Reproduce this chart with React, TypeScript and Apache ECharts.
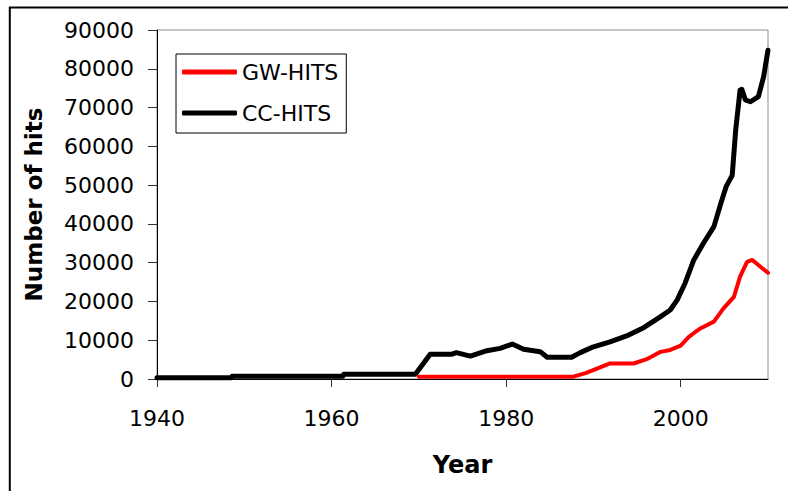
import React, { useEffect, useRef } from "react";
import * as echarts from "echarts";

// ---- data ----
const xTicks = [1940, 1960, 1980, 2000];
const yTicks = [0, 10000, 20000, 30000, 40000, 50000, 60000, 70000, 80000, 90000];

const seriesNames = ["GW-HITS", "CC-HITS"];

const gwYears = [1970, 1987.7, 1989.1, 1990.4, 1991.9, 1994.6, 1996.1, 1997.7, 1998.8, 2000, 2000.9, 2001.6, 2002.3, 2003.8, 2004.9, 2006.1, 2006.8, 2007.6, 2008.2, 2009.1, 2010];
const gwValues = [600, 600, 1500, 2700, 4000, 4000, 5100, 7000, 7500, 8600, 10800, 12000, 13100, 14800, 18200, 21200, 26400, 30200, 30700, 29000, 27400];

const ccYears = [1940, 1948.5, 1948.6, 1961.3, 1961.4, 1969.6, 1971.3, 1973.8, 1974.3, 1975.9, 1977.8, 1979.3, 1980.7, 1982, 1983.9, 1984.7, 1987.5, 1988.5, 1990, 1991.9, 1993.8, 1995.8, 1997.7, 1998.8, 1999.6, 2000.5, 2001.5, 2002.6, 2003.8, 2004.6, 2005.2, 2005.9, 2006.3, 2006.8, 2007.0, 2007.4, 2008.0, 2008.9, 2009.5, 2010];
const ccValues = [300, 300, 700, 700, 1200, 1200, 6400, 6400, 6800, 5900, 7300, 7900, 9000, 7650, 7050, 5600, 5600, 6800, 8300, 9600, 11100, 13300, 16100, 17800, 20400, 24700, 30700, 35000, 39300, 45300, 49600, 52500, 64200, 74500, 74700, 72000, 71500, 72800, 78000, 84800];

const FONT = "DejaVu Sans";

export default function App() {
  const ref = useRef<HTMLDivElement>(null);

  useEffect(() => {
    const chart = echarts.init(ref.current as HTMLDivElement, null, { renderer: "svg" });
    const gwData = gwYears.map((y, i) => [y, gwValues[i]]);
    const ccData = ccYears.map((y, i) => [y, ccValues[i]]);

    chart.setOption({
      animation: false,
      backgroundColor: "#ffffff",
      textStyle: { fontFamily: FONT, color: "#000" },
      grid: {
        left: 157,
        top: 30,
        width: 611,
        height: 349,
        show: true,
        borderColor: "#8c8c8c",
        borderWidth: 1,
        backgroundColor: "#ffffff",
      },
      legend: {
        show: true,
        orient: "vertical",
        left: 176,
        top: 54,
        padding: [7, 8, 9, 6],
        itemGap: 19,
        itemWidth: 55,
        itemHeight: 5,
        icon: "roundRect",
        borderColor: "#000",
        borderWidth: 1,
        borderRadius: 0,
        backgroundColor: "#ffffff",
        textStyle: { fontFamily: FONT, fontSize: 22, color: "#000" },
        data: seriesNames,
      },
      xAxis: {
        type: "value",
        min: 1940,
        max: 2010,
        splitLine: { show: false },
        axisLine: { show: true, onZero: false, lineStyle: { color: "#000", width: 1 } },
        axisTick: { show: true, length: 8, customValues: xTicks, lineStyle: { color: "#333" } },
        axisLabel: {
          customValues: xTicks,
          margin: 28,
          fontSize: 22,
          color: "#000",
          fontFamily: FONT,
          formatter: (v: number) => String(v),
        },
        name: "Year",
        nameLocation: "middle",
        nameGap: 74,
        nameTextStyle: { fontSize: 24, fontWeight: "bold", color: "#000", fontFamily: FONT },
      },
      yAxis: {
        type: "value",
        min: 0,
        max: 90000,
        interval: 10000,
        splitLine: { show: false },
        axisLine: { show: true, lineStyle: { color: "#000", width: 1 } },
        axisTick: { show: true, length: 9, customValues: yTicks, lineStyle: { color: "#333" } },
        axisLabel: {
          customValues: yTicks,
          margin: 23,
          fontSize: 22,
          color: "#000",
          fontFamily: FONT,
          formatter: (v: number) => String(v),
        },
        name: "Number of hits",
        nameLocation: "middle",
        nameGap: 112,
        nameRotate: 90,
        nameTextStyle: { fontSize: 23, fontWeight: "bold", color: "#000", fontFamily: FONT },
      },
      graphic: [
        { type: "line", shape: { x1: 9, y1: 7.5, x2: 788, y2: 7.5 }, style: { stroke: "#000", lineWidth: 2 }, z: 100 },
        { type: "line", shape: { x1: 9.8, y1: 7, x2: 9.8, y2: 491 }, style: { stroke: "#000", lineWidth: 2 }, z: 100 },
      ],
      series: [
        {
          name: seriesNames[0],
          type: "line",
          data: gwData,
          symbol: "none",
          showSymbol: false,
          itemStyle: { color: "#ff0000" },
          lineStyle: { color: "#ff0000", width: 4, cap: "round", join: "round" },
        },
        {
          name: seriesNames[1],
          type: "line",
          data: ccData,
          symbol: "none",
          showSymbol: false,
          itemStyle: { color: "#000000" },
          lineStyle: { color: "#000000", width: 5, cap: "round", join: "round" },
        },
      ],
    });

    return () => chart.dispose();
  }, []);

  return (
    <div
      ref={ref}
      style={{ position: "fixed", left: 0, top: 0, width: 788, height: 491, background: "#fff" }}
    />
  );
}
